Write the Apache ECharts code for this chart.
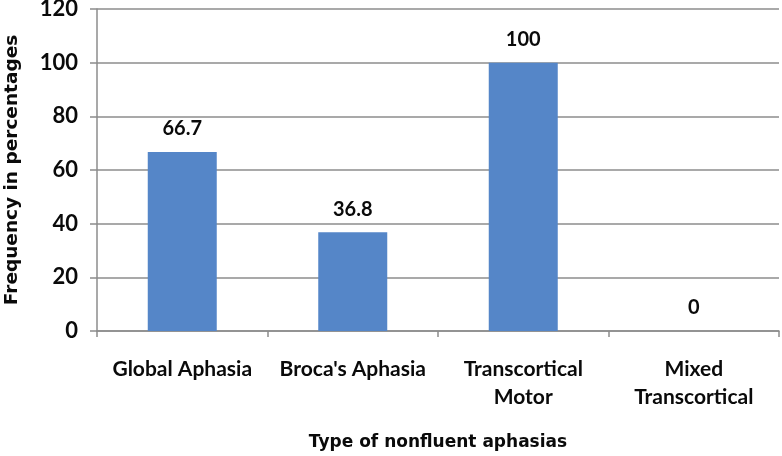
<!DOCTYPE html>
<html>
<head>
<meta charset="utf-8">
<script src="https://cdn.jsdelivr.net/npm/echarts@6/dist/echarts.min.js"></script>
<style>html,body{margin:0;padding:0;background:#fff}#c{width:782px;height:456px}</style>
</head>
<body>
<div id="c"></div>
<script>
var categories = ["Global Aphasia", "Broca's Aphasia", "Transcortical\nMotor", "Mixed\nTranscortical"];
var values = [66.7, 36.8, 100, 0];
var yTicks = [0, 20, 40, 60, 80, 100, 120];

var FONT = 'Lato, "Open Sans", sans-serif';
var HEAVY = '"DejaVu Sans", Verdana, sans-serif';
var chart = echarts.init(document.getElementById('c'), null, {renderer: 'canvas'});
chart.setOption({
  animation: false,
  grid: {left: 97, right: 3, top: 9, bottom: 125, containLabel: false, outerBoundsMode: 'none'},
  xAxis: {
    type: 'category',
    data: categories,
    name: 'Type of nonfluent aphasias',
    nameLocation: 'middle',
    nameGap: 103,
    nameTextStyle: {fontFamily: HEAVY, fontWeight: 'bold', fontSize: 17, color: '#0a0a0a'},
    axisLine: {lineStyle: {color: '#8c8c8c', width: 1.5}},
    axisTick: {show: true, length: 6, alignWithLabel: false, lineStyle: {color: '#8c8c8c', width: 1.5}},
    axisLabel: {fontFamily: FONT, fontWeight: 'bold', fontSize: 21, color: '#0a0a0a', margin: 24, lineHeight: 28, interval: 0}
  },
  yAxis: {
    type: 'value',
    min: yTicks[0],
    max: yTicks[yTicks.length - 1],
    interval: 20,
    name: 'Frequency in percentages',
    nameLocation: 'middle',
    nameGap: 75,
    nameTextStyle: {fontFamily: HEAVY, fontWeight: 'bold', fontSize: 18.5, color: '#0a0a0a'},
    axisLine: {show: true, lineStyle: {color: '#8c8c8c', width: 1.5}},
    axisTick: {show: true, length: 7, lineStyle: {color: '#8c8c8c', width: 1.5}},
    axisLabel: {fontFamily: FONT, fontWeight: 'bold', fontSize: 22, color: '#0a0a0a', margin: 19},
    splitLine: {show: true, lineStyle: {color: '#8c8c8c', width: 1.5}}
  },
  series: [{
    type: 'bar',
    data: values,
    barWidth: 69,
    itemStyle: {color: '#5586C8'},
    label: {
      show: true,
      position: 'top',
      distance: 13,
      fontFamily: FONT,
      fontWeight: 'bold',
      fontSize: 20,
      color: '#0a0a0a'
    }
  }]
});
</script>
</body>
</html>
